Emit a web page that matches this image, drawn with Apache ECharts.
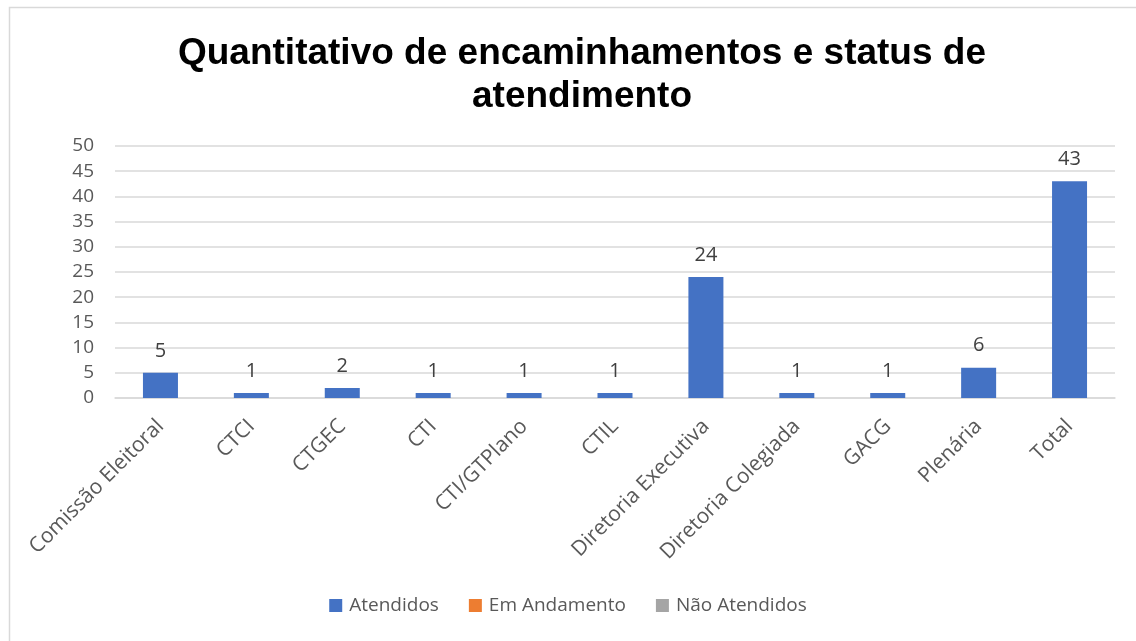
<!DOCTYPE html>
<html>
<head>
<meta charset="utf-8">
<script src="https://cdn.jsdelivr.net/npm/echarts@6/dist/echarts.min.js"></script>
<style>
html,body{margin:0;padding:0;background:#fff;}
#chart{width:1136px;height:641px;}
</style>
</head>
<body>
<div id="chart"></div>
<script>
const categories = ["Comissão Eleitoral","CTCI","CTGEC","CTI","CTI/GTPlano","CTIL","Diretoria Executiva","Diretoria Colegiada","GACG","Plenária","Total"];
const atendidos = [5,1,2,1,1,1,24,1,1,6,43];
const emAndamento = [0,0,0,0,0,0,0,0,0,0,0];
const naoAtendidos = [0,0,0,0,0,0,0,0,0,0,0];
const yTicks = [0,5,10,15,20,25,30,35,40,45,50];

const chart = echarts.init(document.getElementById('chart'));
const font = '"Open Sans", sans-serif';
chart.setOption({
  animation:false,
  backgroundColor:'#fff',
  title:{
    text:'Quantitativo de encaminhamentos e status de\natendimento',
    left:577, top:27, textAlign:'center',
    textStyle:{fontFamily:'"Liberation Sans", Arial, sans-serif',fontWeight:'bold',fontSize:37,color:'#000',lineHeight:43}
  },
  graphic:[{type:'rect',shape:{x:9.5,y:7.5,width:1200,height:700},style:{fill:'none',stroke:'#d9d9d9',lineWidth:1.5},silent:true}],
  legend:{
    bottom:21, left:'center', itemWidth:13, itemHeight:13, itemGap:30,
    icon:'rect',
    textStyle:{fontFamily:font,fontSize:19,color:'#595959',padding:[0,0,0,2]},
    data:['Atendidos','Em Andamento','Não Atendidos']
  },
  grid:{left:115,right:21,top:146,bottom:243,containLabel:false},
  xAxis:{
    type:'category', data:categories,
    axisTick:{show:false},
    axisLine:{lineStyle:{color:'#d9d9d9',width:1.5}},
    axisLabel:{rotate:45,interval:0,fontFamily:font,fontSize:21,color:'#595959',margin:25}
  },
  yAxis:{
    type:'value', min:0, max:50, interval:5,
    axisLine:{show:false}, axisTick:{show:false},
    splitLine:{lineStyle:{color:'#d9d9d9',width:1.5}},
    axisLabel:{fontFamily:font,fontSize:19,color:'#595959',margin:21,
      formatter:v=>yTicks.includes(v)?String(v):''}
  },
  series:[
    {name:'Atendidos',type:'bar',data:atendidos,barWidth:35,barGap:'-100%',
     itemStyle:{color:'#4472c4'},
     label:{show:true,position:'top',distance:12,fontFamily:font,fontSize:20,color:'#404040'}},
    {name:'Em Andamento',type:'bar',data:emAndamento,barWidth:35,barGap:'-100%',itemStyle:{color:'#ed7d31'}},
    {name:'Não Atendidos',type:'bar',data:naoAtendidos,barWidth:35,barGap:'-100%',itemStyle:{color:'#a5a5a5'}}
  ]
});
</script>
</body>
</html>
